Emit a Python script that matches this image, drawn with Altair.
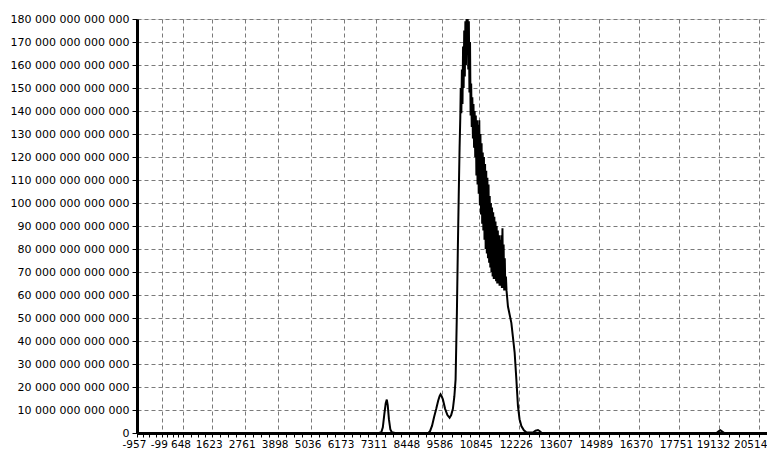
import altair as alt
import pandas as pd

# x positions of the spectrum points and their values (in units of 10^12)
x_vals = [
    -957, 7400, 7480, 7530, 7580, 7630, 7667, 7700, 7740, 7790, 7840, 7950,
    9100, 9160, 9230, 9300, 9374, 9440, 9490, 9523, 9560, 9603, 9680, 9760,
    9834, 9890, 9949, 10000, 10042, 10087, 10121, 10150, 10180, 10204,
    10220, 10240, 10260, 10280, 10300, 10320, 10340, 10360, 10380, 10400,
    10420, 10440, 10460, 10480, 10500, 10520, 10540, 10560, 10580, 10600,
    10620, 10640, 10660, 10680, 10700, 10720, 10740, 10760, 10780, 10800,
    10820, 10840, 10860, 10880, 10900, 10920, 10940, 10960, 10980, 11000,
    11020, 11040, 11060, 11080, 11100, 11120, 11140, 11160, 11180, 11200,
    11220, 11240, 11260, 11280, 11300, 11320, 11340, 11360, 11380, 11400,
    11420, 11440, 11460, 11480, 11500, 11520, 11540, 11560, 11580, 11600,
    11620, 11640, 11660, 11680, 11700, 11720, 11740, 11760, 11780, 11800,
    11850, 11967, 12081, 12140, 12195, 12250, 12313, 12400, 12485, 12714,
    12800, 12887, 12950, 13004, 13100, 19050, 19110, 19180, 19250, 19320,
    20793,
]
y_vals = [
    0, 0, 0.4, 2.5, 8, 13, 14.5, 12, 6, 1.5, 0.3, 0,
    0, 0.8, 3.2, 7, 10.5, 14, 16, 16.8, 16, 14.6, 10.5, 7.8,
    6.6, 7.8, 10.5, 16, 23.3, 52.4, 81.2, 103, 124, 137,
    150, 139, 158, 143, 168, 150, 175, 155, 179, 160,
    180, 165, 180, 158, 179, 148, 170, 138, 152, 133,
    146, 128, 143, 124, 140, 120, 138, 112, 136, 108,
    134, 104, 136, 99, 130, 95, 126, 91, 122, 88,
    120, 84, 117, 80, 114, 78, 111, 76, 108, 74,
    103, 72, 100, 70, 98, 68, 96, 67, 94, 67,
    92, 66, 90, 65, 88, 65, 86, 64, 84, 64,
    86, 63, 89, 63, 82, 62, 76, 62, 68, 62,
    55, 47.9, 34.9, 23.3, 11.7, 6, 3.0, 1.2, 0.3, 0.2,
    1.0, 1.3, 0.8, 0.1, 0, 0, 0.6, 1.2, 0.6, 0,
    0,
]

x_ticks = [-957, -99, 648, 1623, 2761, 3898, 5036, 6173, 7311, 8448, 9586,
           10845, 12226, 13607, 14989, 16370, 17751, 19132, 20514]
y_ticks = [0, 10, 20, 30, 40, 50, 60, 70, 80, 90, 100, 110, 120, 130, 140,
           150, 160, 170, 180]

# minor ticks: three between each pair of labelled ticks
minor_ticks = []
for a, b in zip(x_ticks[:-1], x_ticks[1:]):
    for k in (1, 2, 3):
        minor_ticks.append(round(a + (b - a) * k / 4, 1))
all_x_ticks = sorted(x_ticks + minor_ticks)

IS_MAJOR = "indexof([" + ",".join(str(v) for v in x_ticks) + "], datum.value) >= 0"
IS_LAST = "datum.value == " + str(x_ticks[-1])
IS_PREV = "datum.value == " + str(x_ticks[-2])

X_DOMAIN = [-957, 20793]
FONT = "DejaVu Sans"
GRID = "#7a7a7a"

df = pd.DataFrame({"x": x_vals, "y": y_vals, "i": list(range(len(x_vals)))})

line = alt.Chart(df).mark_line(color="black", strokeWidth=2, clip=True).encode(
    x=alt.X(
        "x:Q",
        scale=alt.Scale(domain=X_DOMAIN, nice=False, zero=False),
        axis=alt.Axis(
            values=all_x_ticks,
            title=None,
            grid=True,
            gridColor=GRID,
            gridDash=[4, 3],
            gridOpacity={"condition": {"test": IS_MAJOR, "value": 1}, "value": 0},
            domainColor="black",
            domainWidth=3,
            tickColor="black",
            tickSize=4,
            labelPadding=2,
            labelFont=FONT,
            labelFontSize=10.5,
            labelColor="black",
            labelOverlap=False,
            labelAlign={"condition": {"test": IS_LAST, "value": "right"}, "value": "center"},
            labelOffset={
                "condition": [
                    {"test": IS_LAST, "value": 8},
                    {"test": IS_PREV, "value": -6},
                ],
                "value": -3,
            },
            labelFlush=False,
            labelBound=False,
            labelExpr="(" + IS_MAJOR + ") ? ('' + datum.value) : ''",
        ),
    ),
    y=alt.Y(
        "y:Q",
        scale=alt.Scale(domain=[0, 180], nice=False),
        axis=alt.Axis(
            values=y_ticks,
            title=None,
            grid=True,
            gridColor=GRID,
            gridDash=[4, 3],
            gridOpacity=1,
            domainColor="black",
            domainWidth=3,
            tickColor="black",
            tickSize=5,
            labelPadding=3,
            labelFont=FONT,
            labelFontSize=11,
            labelColor="black",
            labelOverlap=False,
            labelExpr="replace(format(datum.value * 1e12, ',.0f'), regexp(',', 'g'), ' ')",
        ),
    ),
    order="i:Q",
)

chart = line.properties(
    width=630,
    height=414,
    autosize=alt.AutoSizeParams(type="none"),
    padding={"left": 129, "top": 11, "right": 0, "bottom": 16},
).configure_view(stroke=None).configure(background="white")

chart.save("out.html", embed_options={"renderer": "svg", "actions": False})
